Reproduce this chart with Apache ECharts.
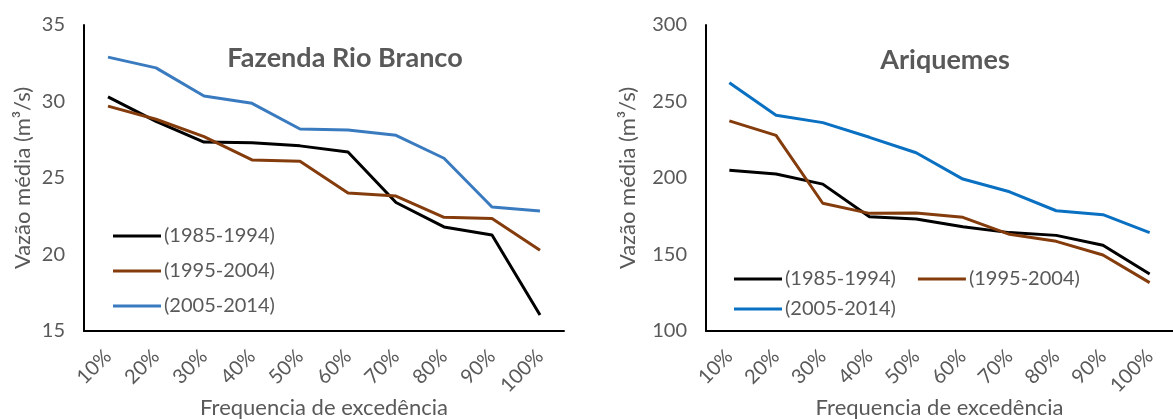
<!DOCTYPE html>
<html>
<head>
<meta charset="utf-8">
<script src="https://cdn.jsdelivr.net/npm/echarts@6/dist/echarts.min.js"></script>
<style>
  html, body { margin: 0; padding: 0; background: #fff; }
  #chart { width: 1173px; height: 419px; }
</style>
</head>
<body>
<div id="chart"></div>
<script>
const categories = ['10%', '20%', '30%', '40%', '50%', '60%', '70%', '80%', '90%', '100%'];
const seriesNames = ['(1985-1994)', '(1995-2004)', '(2005-2014)'];

// Fazenda Rio Branco
const rioBranco85 = [30.3, 28.7, 27.35, 27.3, 27.1, 26.7, 23.4, 21.8, 21.27, 16.05];
const rioBranco95 = [29.7, 28.84, 27.7, 26.18, 26.09, 24.02, 23.82, 22.43, 22.36, 20.27];
const rioBranco05 = [32.9, 32.2, 30.36, 29.88, 28.2, 28.14, 27.79, 26.29, 23.1, 22.84];

// Ariquemes
const ariquemes85 = [205, 202.6, 196, 174.7, 173.2, 168.2, 164.3, 162.5, 156, 137.3];
const ariquemes95 = [237.3, 227.9, 183.5, 176.9, 177.2, 174.3, 163.2, 158.6, 149.7, 131.6];
const ariquemes05 = [262.3, 241, 236.2, 226.6, 216.5, 199.3, 191, 178.6, 176, 164.3];

const font = 'Lato';
const grey = '#595959';
const leftColors = ['#000000', '#843c0c', '#3a7bc0'];
const rightColors = ['#000000', '#843c0c', '#0a70c2'];

const chart = echarts.init(document.getElementById('chart'));

function xAxis(gridIndex) {
  return {
    type: 'category',
    gridIndex: gridIndex,
    data: categories,
    boundaryGap: true,
    name: 'Frequencia de excedência',
    nameLocation: 'middle',
    nameGap: 66,
    nameMoveOverlap: false,
    nameTextStyle: { fontFamily: font, fontSize: 22, color: grey },
    axisLine: { lineStyle: { color: '#000', width: 2 } },
    axisTick: { show: false },
    axisLabel: { rotate: 45, fontFamily: font, fontSize: 20, color: grey, margin: 22, interval: 0 },
    splitLine: { show: false }
  };
}

function yAxis(gridIndex, min, max, interval, gap) {
  return {
    type: 'value',
    gridIndex: gridIndex,
    min: min,
    max: max,
    interval: interval,
    name: 'Vazão média (m³/s)',
    nameLocation: 'middle',
    nameGap: gap,
    nameTextStyle: { fontFamily: font, fontSize: 22, color: grey },
    axisLine: { show: true, lineStyle: { color: '#000', width: 2 } },
    axisTick: { show: false },
    axisLabel: { fontFamily: font, fontSize: 20, color: grey, margin: 19 },
    splitLine: { show: false }
  };
}

function line(name, data, color, idx) {
  return {
    name: name,
    type: 'line',
    xAxisIndex: idx,
    yAxisIndex: idx,
    data: data,
    symbol: 'none',
    lineStyle: { color: color, width: 3 },
    itemStyle: { color: color },
    animation: false
  };
}

function legendItem(i, colors) {
  return { name: seriesNames[i], itemStyle: { color: colors[i] } };
}

const legendText = { fontFamily: font, fontSize: 20, color: grey, padding: [0, 0, 0, -2] };

chart.setOption({
  animation: false,
  title: [
    { text: 'Fazenda Rio Branco', left: 340, top: 40, textAlign: 'center',
      textStyle: { fontFamily: font, fontSize: 27, fontWeight: 'bold', color: grey } },
    { text: 'Ariquemes', left: 940, top: 42, textAlign: 'center',
      textStyle: { fontFamily: font, fontSize: 27, fontWeight: 'bold', color: grey } }
  ],
  legend: [
    { orient: 'vertical', left: 108, top: 221, itemWidth: 48, itemHeight: 3, itemGap: 15,
      icon: 'rect', textStyle: legendText,
      data: [0, 1, 2].map(i => legendItem(i, leftColors)) },
    { orient: 'horizontal', left: 729, top: 264, itemWidth: 48, itemHeight: 3, itemGap: 22,
      icon: 'rect', textStyle: legendText,
      data: [0, 1].map(i => legendItem(i, rightColors)) },
    { orient: 'horizontal', left: 729, top: 294, itemWidth: 48, itemHeight: 3,
      icon: 'rect', textStyle: legendText,
      data: [legendItem(2, rightColors)] }
  ],
  grid: [
    { left: 84, top: 25, width: 480, height: 306, outerBoundsMode: 'none' },
    { left: 706, top: 25, width: 467, height: 306, outerBoundsMode: 'none' }
  ],
  xAxis: [xAxis(0), xAxis(1)],
  yAxis: [yAxis(0, 15, 35, 5, 50), yAxis(1, 100, 300, 50, 67)],
  series: [
    line(seriesNames[0], rioBranco85, leftColors[0], 0),
    line(seriesNames[1], rioBranco95, leftColors[1], 0),
    line(seriesNames[2], rioBranco05, leftColors[2], 0),
    line(seriesNames[0], ariquemes85, rightColors[0], 1),
    line(seriesNames[1], ariquemes95, rightColors[1], 1),
    line(seriesNames[2], ariquemes05, rightColors[2], 1)
  ]
});
</script>
</body>
</html>
